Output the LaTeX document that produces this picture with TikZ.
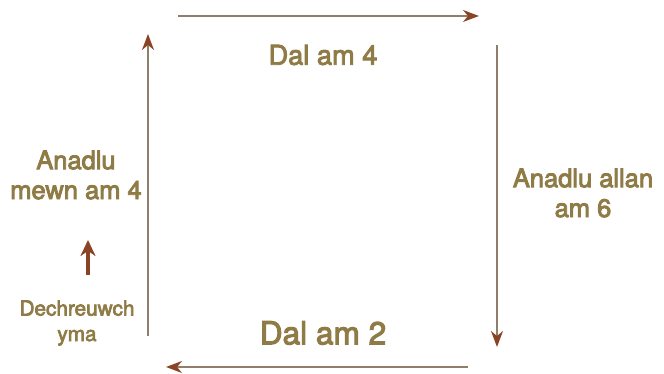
\documentclass[tikz,border=0pt]{standalone}
\usepackage{fontspec}
\setmainfont{TeX Gyre Heros}
\usetikzlibrary{arrows.meta, positioning}
\definecolor{olivetext}{HTML}{8E7B46}
\definecolor{greyline}{HTML}{8F7F6A}
\definecolor{rusttip}{HTML}{8A4424}
% medium weight: fill and stroke the glyphs
\newcommand\thicktext[1]{\special{pdf:literal direct 2 Tr #1 w}}
\tikzset{
    cyclearrow/.style={-{Stealth[length=3.2mm,width=2.4mm,inset=1mm,color=rusttip]}, line width=1pt, draw=greyline},
    startarrow/.style={-{Stealth[length=3.2mm,width=3mm,inset=1mm]}, line width=1.8pt, draw=rusttip},
    steplabel/.style={text=olivetext, font=\fontsize{14.5}{17}\selectfont, align=center, inner sep=0pt},
    biglabel/.style={text=olivetext, font=\fontsize{18}{20}\selectfont, align=center, inner sep=0pt},
    startlabel/.style={text=olivetext, font=\fontsize{11.8}{14.5}\selectfont, align=center, inner sep=0pt}
}
\begin{document}
\begin{tikzpicture}[x=0.02cm, y=-0.02cm]
    \useasboundingbox (0,0) rectangle (664,374);
    % corners of the square
    \coordinate (topL) at (178,16);
    \coordinate (topR) at (479,16);
    \coordinate (rightT) at (497,45);
    \coordinate (rightB) at (497,347);
    \coordinate (botR) at (468,367);
    \coordinate (botL) at (166,367);
    \coordinate (leftB) at (148,336);
    \coordinate (leftT) at (148,34);
    
    % labels
    \node[steplabel, font=\fontsize{15.5}{17}\selectfont] (hold4) at (323,55) {\thicktext{0.5}Dal am 4};
    \node[steplabel] (exhale) at (583,193) {\thicktext{0.5}Anadlu allan\\am 6};
    \node[biglabel] (hold2) at (323,333) {\thicktext{0.6}Dal am 2};
    \node[steplabel] (inhale) at (76,175) {\thicktext{0.5}Anadlu\\mewn am 4};
    \node[startlabel] (start) at (77,323) {\thicktext{0.4}Dechreuwch\\yma};
    \coordinate (startB) at (88,275);
    \coordinate (startT) at (88,240);
    
    % the cycle
    \draw[cyclearrow] (topL) -- (topR);
    \draw[cyclearrow] (rightT) -- (rightB);
    \draw[cyclearrow] (botR) -- (botL);
    \draw[cyclearrow] (leftB) -- (leftT);
    \draw[startarrow] (startB) -- (startT);
\end{tikzpicture}
\end{document}
